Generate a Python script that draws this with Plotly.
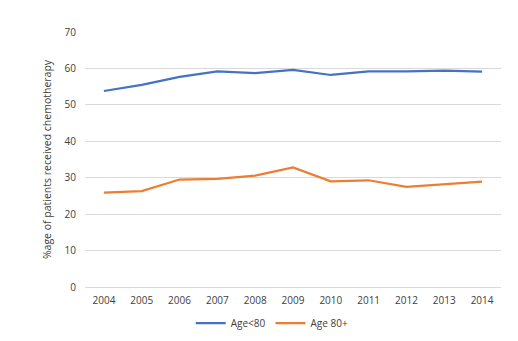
import plotly.graph_objects as go

years = ["2004", "2005", "2006", "2007", "2008", "2009", "2010", "2011", "2012", "2013", "2014"]
age_under_80 = [53.8, 55.5, 57.7, 59.2, 58.7, 59.6, 58.2, 59.2, 59.2, 59.4, 59.1]
age_80_plus = [25.9, 26.3, 29.5, 29.7, 30.6, 32.8, 29.0, 29.3, 27.5, 28.3, 28.9]

fig = go.Figure()
fig.add_trace(go.Scatter(x=years, y=age_under_80, mode="lines", name="Age<80",
                         line=dict(color="#4472C4", width=2.25)))
fig.add_trace(go.Scatter(x=years, y=age_80_plus, mode="lines", name="Age 80+",
                         line=dict(color="#ED7D31", width=2.25)))

fam = "Open Sans, Liberation Sans, Arial, sans-serif"
font = dict(family=fam, size=10, color="#404040")
fig.update_layout(
    width=518, height=341,
    margin=dict(l=85, r=17, t=32, b=54, autoexpand=False),
    paper_bgcolor="white", plot_bgcolor="white",
    font=font,
    showlegend=True,
    legend=dict(orientation="h", x=0.45, xanchor="center", yref="container",
                y=0.01, yanchor="bottom",
                font=dict(family=fam, size=10, color="#404040"), itemwidth=30, tracegroupgap=0),
    xaxis=dict(type="category", range=[-0.5, 10.5], showgrid=False, showline=False,
               zeroline=False, ticks="", ticklabelstandoff=6,
               tickfont=dict(family=fam, size=10, color="#404040")),
    yaxis=dict(range=[0, 70], dtick=10, showgrid=True, gridcolor="#D9D9D9", gridwidth=1,
               zeroline=True, zerolinecolor="#D9D9D9", zerolinewidth=1,
               showline=False, ticks="", ticklabelstandoff=8,
               tickfont=dict(family=fam, size=10, color="#404040"),
               title=dict(text="%age of patients received chemotherapy", standoff=10,
                          font=dict(family=fam, size=10.5, color="#404040"))),
)
fig.write_html("out.html")
